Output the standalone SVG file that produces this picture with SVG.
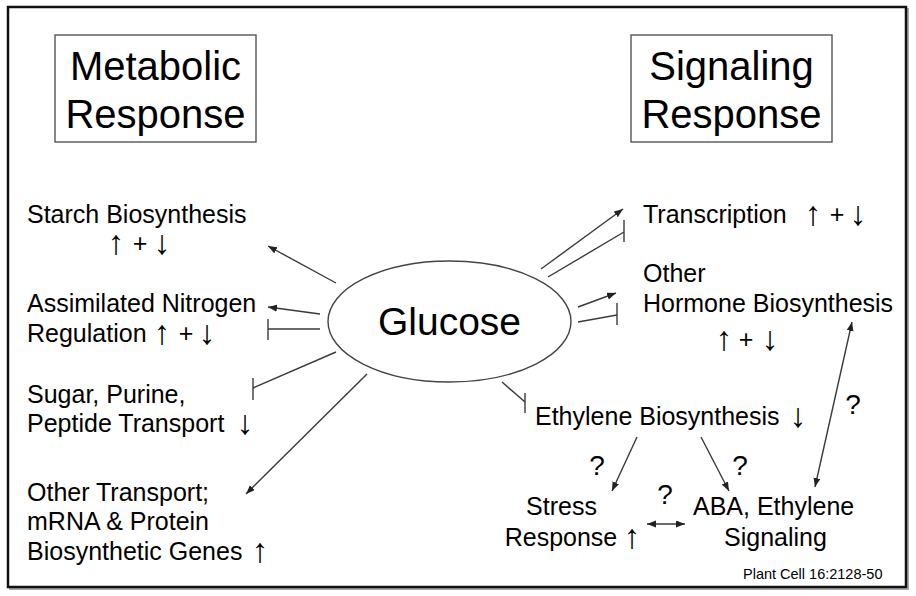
<svg xmlns="http://www.w3.org/2000/svg" width="916" height="596" viewBox="0 0 916 596">
<style>
text{font-family:"Liberation Sans",Arial,sans-serif;fill:#000}
.t{font-size:25px}
.h{font-size:40px;text-anchor:middle}
.q{font-size:28px;text-anchor:middle}
.s{font-size:25px;text-anchor:middle}
.a{font-size:34px;text-anchor:middle}
.c line{stroke:#3a3a3a;stroke-width:1.4;fill:none}
.box{fill:#fff;stroke:#555;stroke-width:1.4}
</style>
<defs>
<marker id="ah" markerUnits="userSpaceOnUse" markerWidth="10" markerHeight="8" refX="9" refY="3.5" orient="auto-start-reverse">
<path d="M0,0 L9,3.5 L0,7 z" fill="#222"/>
</marker>
</defs>
<rect x="0" y="0" width="916" height="596" fill="#fff"/>
<rect x="10" y="9" width="898" height="580" fill="none" stroke="#aaa" stroke-width="2"/>
<rect x="8" y="7" width="898" height="580" fill="#fff" stroke="#111" stroke-width="2.5"/>

<g id="metabolic">
<rect class="box" x="55" y="35" width="201" height="107"/>
<text class="h" x="155.5" y="80">Metabolic</text>
<text class="h" x="155.5" y="128">Response</text>
</g>
<g id="signaling">
<rect class="box" x="631" y="35" width="201" height="107"/>
<text class="h" x="731.5" y="80">Signaling</text>
<text class="h" x="731.5" y="128">Response</text>
</g>
<g id="glucose">
<ellipse cx="449.5" cy="321.5" rx="121.5" ry="60.5" fill="#fff" stroke="#444" stroke-width="1.4"/>
<text x="449.5" y="335" font-size="39" text-anchor="middle">Glucose</text>
</g>
<g id="starch">
<text class="t" x="27" y="223">Starch Biosynthesis</text>
<text class="a" x="116" y="254">↑</text>
<text class="s" x="140" y="252">+</text>
<text class="a" x="162" y="254">↓</text>
</g>
<g id="nitrogen">
<text class="t" x="27" y="312">Assimilated Nitrogen</text>
<text class="t" x="27" y="342">Regulation</text>
<text class="a" x="162" y="344">↑</text>
<text class="s" x="186" y="342">+</text>
<text class="a" x="207" y="344">↓</text>
</g>
<g id="sugar">
<text class="t" x="27" y="403">Sugar, Purine,</text>
<text class="t" x="27" y="432">Peptide Transport</text>
<text class="a" x="245" y="434">↓</text>
</g>
<g id="othertransport">
<text class="t" x="27" y="501">Other Transport;</text>
<text class="t" x="27" y="530">mRNA &amp; Protein</text>
<text class="t" x="27" y="560">Biosynthetic Genes</text>
<text class="a" x="260" y="562">↑</text>
</g>
<g id="transcription">
<text class="t" x="643" y="223">Transcription</text>
<text class="a" x="813" y="225">↑</text>
<text class="s" x="837" y="223">+</text>
<text class="a" x="858" y="225">↓</text>
</g>
<g id="hormone">
<text class="t" x="643" y="282">Other</text>
<text class="t" x="643" y="312">Hormone Biosynthesis</text>
<text class="a" x="724" y="350">↑</text>
<text class="s" x="746" y="348">+</text>
<text class="a" x="770" y="350">↓</text>
</g>
<g id="ethylene">
<text class="t" x="535" y="425">Ethylene Biosynthesis</text>
<text class="a" x="798" y="427">↓</text>
</g>
<g id="stress">
<text class="s" x="561.5" y="515">Stress</text>
<text class="s" x="561" y="546">Response</text>
<text class="a" x="632" y="548">↑</text>
</g>
<g id="aba">
<text class="t" x="693" y="515">ABA, Ethylene</text>
<text class="s" x="775.5" y="546">Signaling</text>
</g>
<g id="labels">
<text class="q" x="597" y="475">?</text>
<text class="q" x="740" y="475">?</text>
<text class="q" x="665" y="504">?</text>
<text class="q" x="853" y="414" font-size="30">?</text>
<text x="743" y="579" font-size="14.5">Plant Cell 16:2128-50</text>
</g>
<g id="connectors" class="c">
<line x1="336" y1="283" x2="268" y2="246" marker-end="url(#ah)"/>
<line x1="320" y1="314" x2="268" y2="307" marker-end="url(#ah)"/>
<line x1="320" y1="329" x2="268" y2="329"/>
<line x1="268" y1="319" x2="268" y2="340"/>
<line x1="336" y1="352" x2="253" y2="388"/>
<line x1="253" y1="378" x2="253" y2="400"/>
<line x1="367" y1="374" x2="246" y2="494" marker-end="url(#ah)"/>
<line x1="541" y1="269" x2="623" y2="209" marker-end="url(#ah)"/>
<line x1="548" y1="277" x2="624" y2="232"/>
<line x1="624" y1="220" x2="624" y2="242"/>
<line x1="578" y1="307" x2="616" y2="293" marker-end="url(#ah)"/>
<line x1="578" y1="322" x2="617" y2="315"/>
<line x1="617" y1="303" x2="617" y2="325"/>
<line x1="502" y1="382" x2="525" y2="402"/>
<line x1="525" y1="393" x2="525" y2="413"/>
<line x1="852" y1="322" x2="815" y2="487" marker-start="url(#ah)" marker-end="url(#ah)"/>
<line x1="637" y1="437" x2="612" y2="491" marker-end="url(#ah)"/>
<line x1="701" y1="437" x2="729" y2="491" marker-end="url(#ah)"/>
<line x1="647" y1="524" x2="685" y2="524" marker-start="url(#ah)" marker-end="url(#ah)"/>
</g>
</svg>
